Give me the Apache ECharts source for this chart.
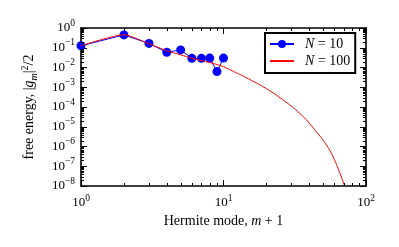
<!DOCTYPE html>
<html>
<head>
<meta charset="utf-8">
<script src="https://cdn.jsdelivr.net/npm/echarts@6/dist/echarts.min.js"></script>
<style>html,body{margin:0;padding:0;background:#fff;}#c{width:399px;height:247px;}</style>
</head>
<body>
<div id="c"></div>
<script>
// N = 10 (blue markers)
var modesN10 = [1, 2, 3, 4, 5, 6, 7, 8, 9, 10];
var energyN10 = [0.126, 0.447, 0.166, 0.059, 0.078, 0.029, 0.029, 0.030, 0.0062, 0.030];
// N = 100 (red line)
var modesN100 = [1, 2, 3, 4, 5, 6, 7, 8, 9, 10, 11, 12, 13, 14, 16, 18, 20, 23, 26, 30,
  34, 38, 42, 46, 50, 54, 58, 62, 66, 70, 74];
var energyN100 = [0.126, 0.457, 0.158, 0.0708, 0.0437, 0.0295, 0.0224, 0.0178, 0.0141, 0.011,
  0.00794, 0.00589, 0.00447, 0.00339, 0.00209, 0.00132, 0.000851, 0.000447, 0.000234, 0.000110,
  0.0000501, 0.0000234, 0.0000100, 0.00000447, 0.00000209, 0.000000933, 0.00000038,
  0.000000126, 0.0000000398, 0.0000000126, 0.00000000398];
var seriesNames = ['N = 10', 'N = 100'];
var xMin = 1, xMax = 100, yMin = 1e-8, yMax = 1;

var FONT = 'Liberation Serif';
function sup(e) { return e < 0 ? '\u2212' + (-e) : String(e); }
function powLabel(v) {
  var e = Math.round(Math.log10(v));
  return '10{s|' + sup(e) + '}';
}
var labelRich = {
  s: { fontSize: 9.5, fontFamily: FONT, color: '#000', verticalAlign: 'top', padding: [0, 0, 10, 0] }
};

// minor tick values (2..9 within each decade)
var xMinor = [], yMinor = [];
for (var d = 0; d < 2; d++) for (var k = 2; k <= 9; k++) xMinor.push(k * Math.pow(10, d));
for (var d2 = -8; d2 < 0; d2++) for (var k2 = 2; k2 <= 9; k2++) yMinor.push(k2 * Math.pow(10, d2));
var minorData = [];
xMinor.forEach(function (v) { minorData.push([v, 1e-4, 0]); });
yMinor.forEach(function (v) { minorData.push([10, v, 1]); });

var chart = echarts.init(document.getElementById('c'), null, { renderer: 'canvas' });
var axisLineStyle = { color: '#000', width: 1.6 };
var italic = { fontFamily: FONT, fontStyle: 'italic', fontSize: 14, color: '#000' };
chart.setOption({
  animation: false,
  backgroundColor: '#fff',
  grid: { left: 81, right: 33, top: 28, bottom: 61, containLabel: false, outerBoundsMode: 'none' },
  legend: {
    data: [{ name: 'N = 10' }, { name: 'N = 100', itemStyle: { opacity: 0 } }],
    orient: 'vertical',
    left: 265, top: 33,
    borderColor: '#000', borderWidth: 2, borderRadius: 0,
    padding: [3, 5, 4, 4],
    itemWidth: 24, itemHeight: 10, itemGap: 1,
    backgroundColor: '#fff',
    formatter: function (n) { return n === 'N = 10' ? '{i|N} = 10' : '{i|N} = 100'; },
    textStyle: {
      fontFamily: FONT, fontSize: 14, color: '#000', padding: [0, 0, 0, 6], lineHeight: 16,
      rich: { i: { fontFamily: FONT, fontStyle: 'italic', fontSize: 14, color: '#000', lineHeight: 16 } }
    }
  },
  xAxis: [{
    type: 'log', logBase: 10, min: xMin, max: xMax, position: 'bottom',
    axisLine: { show: true, lineStyle: axisLineStyle },
    axisTick: { show: true, inside: true, length: 6, lineStyle: { color: '#000', width: 1 } },
    splitLine: { show: false },
    axisLabel: { formatter: powLabel, fontFamily: FONT, fontSize: 13, color: '#000', margin: 7, rich: labelRich },
    name: 'Hermite mode, {i|m} + 1', nameLocation: 'middle', nameGap: 25,
    nameTextStyle: { fontFamily: FONT, fontSize: 14, color: '#000', rich: { i: italic } }
  }, {
    type: 'log', logBase: 10, min: xMin, max: xMax, position: 'top',
    axisLine: { show: true, lineStyle: axisLineStyle },
    axisTick: { show: true, inside: true, length: 6, lineStyle: { color: '#000', width: 1 } },
    splitLine: { show: false }, axisLabel: { show: false }
  }],
  yAxis: [{
    type: 'log', logBase: 10, min: yMin, max: yMax, interval: 1, position: 'left',
    axisLine: { show: true, lineStyle: axisLineStyle },
    axisTick: { show: true, inside: true, length: 6, lineStyle: { color: '#000', width: 1 } },
    splitLine: { show: false },
    axisLabel: { formatter: powLabel, fontFamily: FONT, fontSize: 13, color: '#000', margin: 6, rich: labelRich },
    name: 'free energy, |{i|g}{sub|m}|{s|2}/2', nameLocation: 'middle', nameGap: 42, nameRotate: 90,
    nameTextStyle: { fontFamily: FONT, fontSize: 14, color: '#000',
      rich: {
        i: italic,
        sub: { fontFamily: FONT, fontStyle: 'italic', fontSize: 10, color: '#000', verticalAlign: 'bottom', padding: [7, 0, 0, 0] },
        s: { fontFamily: FONT, fontSize: 10, color: '#000', verticalAlign: 'top', padding: [0, 0, 9, 0] }
      } }
  }, {
    type: 'log', logBase: 10, min: yMin, max: yMax, interval: 1, position: 'right',
    axisLine: { show: true, lineStyle: axisLineStyle },
    axisTick: { show: true, inside: true, length: 6, lineStyle: { color: '#000', width: 1 } },
    splitLine: { show: false }, axisLabel: { show: false }
  }],
  series: [{
    name: 'N = 10', type: 'line',
    data: modesN10.map(function (x, i) { return [x, energyN10[i]]; }),
    symbol: 'circle', symbolSize: 9, showSymbol: true,
    lineStyle: { color: '#0000ff', width: 1 },
    itemStyle: { color: '#0000ff' },
    z: 3, clip: true
  }, {
    name: 'N = 100', type: 'line',
    data: modesN100.map(function (x, i) { return [x, energyN100[i]]; }),
    symbol: 'none', showSymbol: false, smooth: 0.2,
    lineStyle: { color: '#ff0000', width: 1 },
    itemStyle: { color: '#ff0000' },
    z: 4, clip: true
  }, {
    type: 'custom', silent: true, z: 5,
    data: minorData,
    renderItem: function (params, api) {
      var cs = params.coordSys;
      var kind = api.value(2);
      var len = 3;
      var st = { stroke: '#000', lineWidth: 1 };
      if (kind === 0) {
        var x = Math.round(api.coord([api.value(0), 1e-4])[0]) + 0.5;
        return { type: 'group', children: [
          { type: 'line', shape: { x1: x, y1: cs.y + cs.height, x2: x, y2: cs.y + cs.height - len }, style: st },
          { type: 'line', shape: { x1: x, y1: cs.y, x2: x, y2: cs.y + len }, style: st }
        ] };
      } else {
        var y = Math.round(api.coord([10, api.value(1)])[1]) + 0.5;
        return { type: 'group', children: [
          { type: 'line', shape: { x1: cs.x, y1: y, x2: cs.x + len, y2: y }, style: st },
          { type: 'line', shape: { x1: cs.x + cs.width, y1: y, x2: cs.x + cs.width - len, y2: y }, style: st }
        ] };
      }
    }
  }]
});
</script>
</body>
</html>
